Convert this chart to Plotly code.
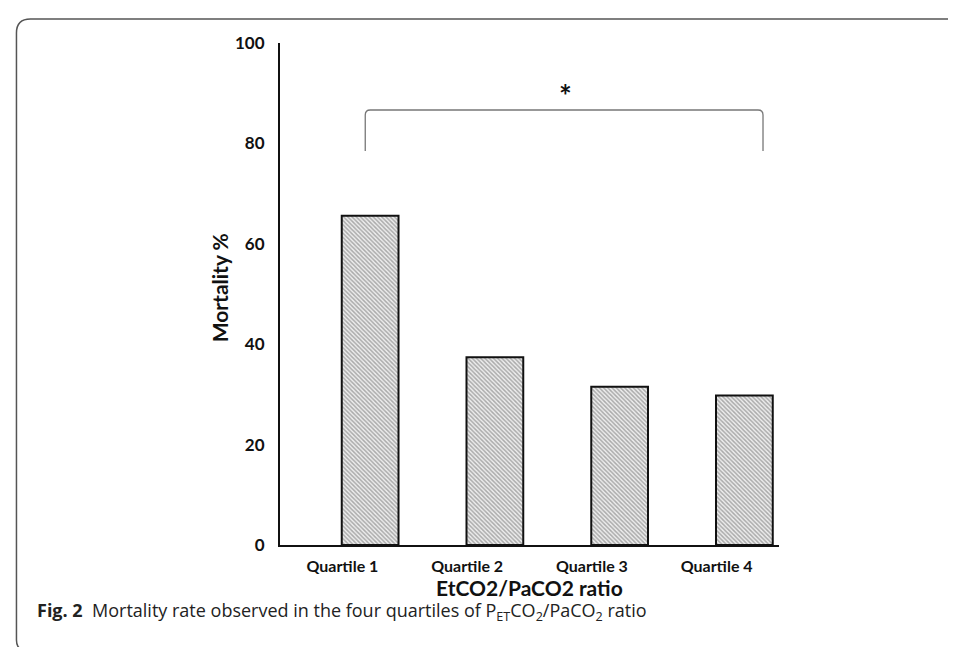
import plotly.graph_objects as go

categories = ["Quartile 1", "Quartile 2", "Quartile 3", "Quartile 4"]
mortality = [65.6, 37.4, 31.5, 29.8]
y_ticks = [0, 20, 40, 60, 80, 100]

W_PX, H_PX = 956, 647
L, R, T, B = 271.7, 771.0, 35.0, 537.0

def px(x):
    return (x - L) / (R - L)

def py(y):
    return (B - y) / (B - T)

fig = go.Figure()
fig.add_trace(go.Bar(
    x=categories, y=mortality,
    width=0.455, offset=-0.005,
    marker=dict(color="white", line=dict(color="#111", width=2),
                pattern=dict(shape="\\", size=3, solidity=0.5,
                             fgcolor="#666", bgcolor="#eeeeee", fillmode="overlay")),
    showlegend=False, hoverinfo="skip",
))

chart_font = "Lato, 'Open Sans', sans-serif"

fig.update_layout(
    width=W_PX, height=H_PX,
    margin=dict(l=L, r=W_PX - R, t=T, b=H_PX - B, pad=0),
    paper_bgcolor="white", plot_bgcolor="white",
    xaxis=dict(type="category", range=[-0.5, 3.5],
               showgrid=False, zeroline=False, showline=True, linecolor="#111", linewidth=2,
               ticks="", ticklabelstandoff=6,
               tickfont=dict(family=chart_font, size=16, color="#111", weight="bold")),
    yaxis=dict(range=[0, 100], tickmode="array", tickvals=y_ticks,
               showgrid=False, zeroline=False, showline=True, linecolor="#111", linewidth=2,
               ticks="", ticklabelstandoff=10,
               tickfont=dict(family=chart_font, size=17, color="#111", weight="bold")),
)

# axis titles
fig.add_annotation(xref="paper", yref="paper", x=px(521), y=py(579),
                   xanchor="center", yanchor="middle",
                   text="EtCO2/PaCO2 ratio", showarrow=False,
                   font=dict(family=chart_font, size=21, color="#111", weight="bold"))
fig.add_annotation(xref="paper", yref="paper", x=px(211), y=py(280),
                   xanchor="center", yanchor="middle",
                   text="Mortality %", textangle=-90, showarrow=False,
                   font=dict(family=chart_font, size=21, color="#111", weight="bold"))

# significance bracket
bx0, bx1, by0, by1, r = 357, 755, 102, 143, 5
path = (f"M {px(bx0)},{py(by1)} L {px(bx0)},{py(by0 + r)} "
        f"Q {px(bx0)},{py(by0)} {px(bx0 + r)},{py(by0)} "
        f"L {px(bx1 - r)},{py(by0)} Q {px(bx1)},{py(by0)} {px(bx1)},{py(by0 + r)} "
        f"L {px(bx1)},{py(by1)}")
fig.add_shape(type="path", xref="paper", yref="paper", path=path,
              line=dict(color="#777", width=1.3))
fig.add_annotation(xref="paper", yref="paper", x=px(557), y=py(87),
                   xanchor="center", yanchor="middle",
                   text="*", showarrow=False,
                   font=dict(family=chart_font, size=30, color="#111", weight="bold"))

# figure frame (top and left rule with rounded corner)
fr = 14
frame = (f"M {px(8)},{py(632)} L {px(8)},{py(11 + fr)} "
         f"Q {px(8)},{py(11)} {px(8 + fr)},{py(11)} L {px(956)},{py(11)}")
fig.add_shape(type="path", xref="paper", yref="paper", path=frame,
              line=dict(color="#555", width=1.5))
fig.add_shape(type="path", xref="paper", yref="paper",
              path=f"M {px(8)},{py(632)} Q {px(8)},{py(640)} {px(14)},{py(642)}",
              line=dict(color="#555", width=1.5))

# caption
fig.add_annotation(xref="paper", yref="paper", x=px(27), y=py(604),
                   xanchor="left", yanchor="middle",
                   text="<b>Fig. 2</b>  Mortality rate observed in the four quartiles of "
                        "P<sub>ET</sub>CO<sub>2</sub>/PaCO<sub>2</sub> ratio",
                   showarrow=False,
                   font=dict(family="'Open Sans', sans-serif", size=18, color="#222"))

fig.write_html("out.html")
